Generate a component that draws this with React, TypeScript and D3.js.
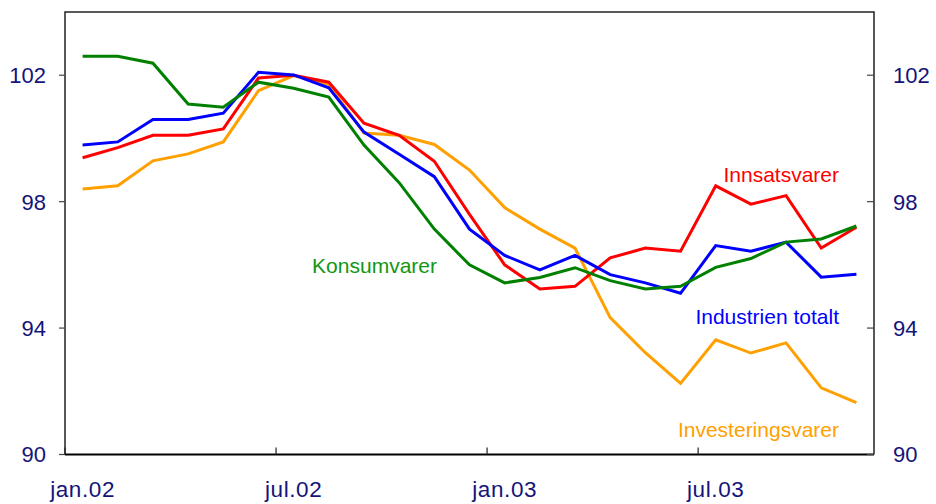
import React from "react";
import * as d3 from "d3";

const months = [
  "jan.02","feb.02","mar.02","apr.02","mai.02","jun.02","jul.02","aug.02","sep.02","okt.02","nov.02","des.02",
  "jan.03","feb.03","mar.03","apr.03","mai.03","jun.03","jul.03","aug.03","sep.03","okt.03","nov.03",
];
const tickLabels = ["jan.02", "jul.02", "jan.03", "jul.03"];
const yTicks = [90, 94, 98, 102];

const investeringsvarer = [98.4,98.5,99.29,99.51,99.89,101.51,101.99,101.71,100.17,100.1,99.81,99.0,97.81,97.13,96.53,94.33,93.22,92.25,93.63,93.21,93.53,92.11,91.64];
const innsatsvarer = [99.39,99.71,100.1,100.1,100.3,101.91,102.0,101.78,100.48,100.1,99.28,97.6,96.0,95.24,95.32,96.22,96.53,96.43,98.5,97.92,98.19,96.53,97.19];
const industrienTotalt = [99.79,99.89,100.6,100.6,100.8,102.09,102.01,101.6,100.2,99.5,98.79,97.13,96.3,95.84,96.3,95.69,95.43,95.1,96.61,96.43,96.72,95.61,95.7];
const konsumvarer = [102.6,102.6,102.38,101.09,100.99,101.78,101.59,101.31,99.79,98.6,97.13,96.0,95.43,95.6,95.91,95.5,95.24,95.32,95.92,96.2,96.72,96.82,97.23];

const seriesList = [
  { name: "Investeringsvarer", values: investeringsvarer, color: "#ffa000", label: { x: 839, y: 437 } },
  { name: "Innsatsvarer", values: innsatsvarer, color: "#ff0000", label: { x: 839, y: 182 } },
  { name: "Industrien totalt", values: industrienTotalt, color: "#0000ff", label: { x: 839, y: 324 } },
  { name: "Konsumvarer", values: konsumvarer, color: "#008000", label: { x: 437, y: 273 } },
];

export default function App() {
  const W = 936, H = 504;
  const left = 65, right = 874, top = 12, bottom = 454.5;
  const x = d3.scaleBand<string>().domain(months).range([left, right]).padding(0);
  const y = d3.scaleLinear().domain([90, 104]).range([bottom, top]);
  const cx = (m: string) => (x(m) as number) + x.bandwidth() / 2;
  const line = d3
    .line<number>()
    .x((_, i) => cx(months[i]))
    .y((v) => y(v));
  const font = "Liberation Sans, Arial, sans-serif";
  const navy = "#14147a";

  return (
    <svg width={W} height={H} style={{ position: "absolute", left: 0, top: 0 }} fontFamily={font}>
      <rect x={0} y={0} width={W} height={H} fill="#fff" />
      {seriesList.map((s) => (
        <path key={s.name} d={line(s.values) || ""} fill="none" stroke={s.color} strokeWidth={3} strokeLinejoin="miter" />
      ))}
      {/* frame */}
      <path d={`M${left},${bottom} V${top} H${right} V${bottom}`} fill="none" stroke="#222" strokeWidth={1.5} />
      <line x1={left} x2={right} y1={bottom} y2={bottom} stroke="#000" strokeWidth={2} />
      {/* y ticks */}
      {yTicks.map((t) => (
        <g key={t}>
          <line x1={left - 6} x2={left} y1={y(t)} y2={y(t)} stroke="#444" strokeWidth={1.2} />
          <line x1={right - 7} x2={right} y1={y(t)} y2={y(t)} stroke="#444" strokeWidth={1.2} />
          <text x={46} y={y(t)} dy="0.36em" textAnchor="end" fontSize={22} fill={navy}>{t}</text>
          <text x={893} y={y(t)} dy="0.36em" textAnchor="start" fontSize={22} fill={navy}>{t}</text>
        </g>
      ))}
      {/* x ticks */}
      {tickLabels.map((m) => (
        <g key={m}>
          <line x1={x(m) as number} x2={x(m) as number} y1={bottom} y2={bottom - 7} stroke="#222" strokeWidth={1.2} />
          <text x={cx(m)} y={497} textAnchor="middle" fontSize={22.5} letterSpacing={0.6} fill={navy}>{m}</text>
        </g>
      ))}
      {seriesList.map((s) => (
        <text key={s.name + "l"} x={s.label.x} y={s.label.y} textAnchor="end" fontSize={21} fill={s.color === "#008000" ? "#129612" : s.color}>
          {s.name}
        </text>
      ))}
    </svg>
  );
}
